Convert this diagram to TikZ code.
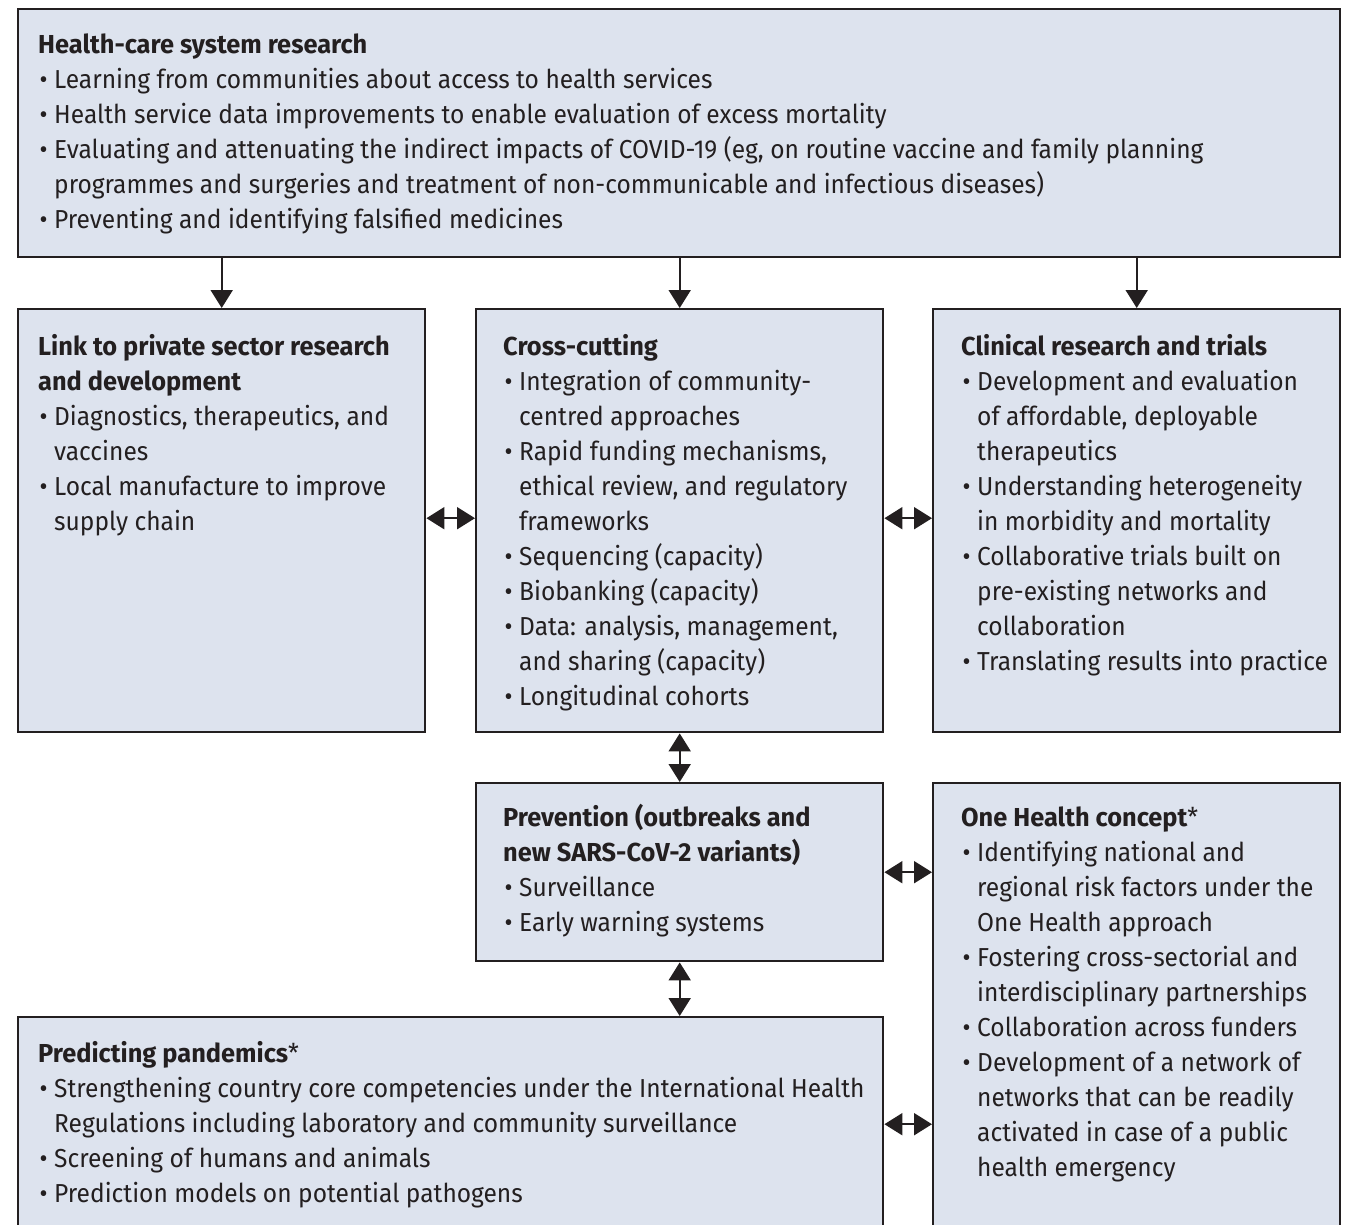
\documentclass[tikz,border=0pt]{standalone}
\usepackage{fontspec}
\setmainfont{Fira Sans}[FakeStretch=0.944]
\newfontfamily\hdfont{Fira Sans}[FakeStretch=0.976]
\usetikzlibrary{arrows.meta}
\definecolor{boxfill}{RGB}{221,227,238}
\definecolor{ink}{RGB}{35,31,32}
\newcommand{\bl}{\makebox[16pt][l]{\hspace{1.5pt}•}}
\newcommand{\ind}{\hspace*{16pt}}
\newcommand{\hd}[1]{{\hdfont\bfseries #1}}
\begin{document}
\begin{tikzpicture}[x=1pt,y=-1pt,
  box/.style={draw=ink, fill=boxfill, line width=2.4pt, inner sep=0pt, anchor=north west},
  txt/.style={anchor=base west, inner sep=0pt, text=ink, font=\fontsize{26}{35}\selectfont},
  arr/.style={draw=ink, line width=2pt, -{Triangle[length=18pt,width=22pt]}},
  darr/.style={draw=ink, line width=2pt, {Triangle[length=18pt,width=22pt]}-{Triangle[length=18pt,width=22pt]}}]
\useasboundingbox (0,0) rectangle (1351,1225);
\clip (0,0) rectangle (1351,1225);
% boxes
\node[box, minimum width=1322pt, minimum height=248pt] (top) at (17,8) {};
\node[box, minimum width=407pt, minimum height=423pt] (link) at (17,308) {};
\node[box, minimum width=407pt, minimum height=423pt] (cross) at (475,308) {};
\node[box, minimum width=407pt, minimum height=423pt] (clin) at (932,308) {};
\node[box, minimum width=407pt, minimum height=178pt] (prev) at (475,782) {};
\node[box, minimum width=407pt, minimum height=470pt] (oneh) at (932,782) {};
\node[box, minimum width=865pt, minimum height=214pt] (pred) at (17,1016) {};
% texts
\node[txt] (ttop) at (38,54) {\parbox[t]{1400pt}{\raggedright
\hd{Health-care system research}\\
\bl Learning from communities about access to health services\\
\bl Health service data improvements to enable evaluation of excess mortality\\
\bl Evaluating and attenuating the indirect impacts of COVID-19 (eg, on routine vaccine and family planning\\
\ind programmes and surgeries and treatment of non-communicable and infectious diseases)\\
\bl Preventing and identifying falsified medicines}};
\node[txt] (tlink) at (38,355) {\parbox[t]{600pt}{\raggedright
\hd{Link to private sector research}\\
\hd{and development}\\
\bl Diagnostics, therapeutics, and\\
\ind vaccines\\
\bl Local manufacture to improve\\
\ind supply chain}};
\node[txt] (tcross) at (503,355) {\parbox[t]{600pt}{\raggedright
\hd{Cross-cutting}\\
\bl Integration of community-\\
\ind centred approaches\\
\bl Rapid funding mechanisms,\\
\ind ethical review, and regulatory\\
\ind frameworks\\
\bl Sequencing (capacity)\\
\bl Biobanking (capacity)\\
\bl Data: analysis, management,\\
\ind and sharing (capacity)\\
\bl Longitudinal cohorts}};
\node[txt] (tclin) at (961,355) {\parbox[t]{600pt}{\raggedright
\hd{Clinical research and trials}\\
\bl Development and evaluation\\
\ind of affordable, deployable\\
\ind therapeutics\\
\bl Understanding heterogeneity\\
\ind in morbidity and mortality\\
\bl Collaborative trials built on\\
\ind pre-existing networks and\\
\ind collaboration\\
\bl Translating results into practice}};
\node[txt] (tprev) at (503,826) {\parbox[t]{600pt}{\raggedright
\hd{Prevention (outbreaks and}\\
\hd{new SARS-CoV-2 variants)}\\
\bl Surveillance\\
\bl Early warning systems}};
\node[txt] (toneh) at (961,826) {\parbox[t]{600pt}{\raggedright
\hd{One Health concept}*\\
\bl Identifying national and\\
\ind regional risk factors under the\\
\ind One Health approach\\
\bl Fostering cross-sectorial and\\
\ind interdisciplinary partnerships\\
\bl Collaboration across funders\\
\bl Development of a network of\\
\ind networks that can be readily\\
\ind activated in case of a public\\
\ind health emergency}};
\node[txt] (tpred) at (38,1062) {\parbox[t]{1200pt}{\raggedright
\hd{Predicting pandemics}*\\
\bl Strengthening country core competencies under the International Health\\
\ind Regulations including laboratory and community surveillance\\
\bl Screening of humans and animals\\
\bl Prediction models on potential pathogens}};
% connectors
\draw[arr] (top.south -| link.north) -- (link.north);
\draw[arr] (top.south -| cross.north) -- (cross.north);
\draw[arr] (top.south -| clin.north) -- (clin.north);
\draw[darr] ([yshift=2.5pt]link.east) -- ([yshift=2.5pt]cross.west);
\draw[darr] ([yshift=2.5pt]cross.east) -- ([yshift=2.5pt]clin.west);
\draw[darr] (cross.south) -- (prev.north);
\draw[darr] (prev.south) -- (pred.north -| prev.south);
\draw[darr] (prev.east) -- (prev.east -| oneh.west);
\draw[darr] (pred.east) -- (pred.east -| oneh.west);
\end{tikzpicture}
\end{document}
